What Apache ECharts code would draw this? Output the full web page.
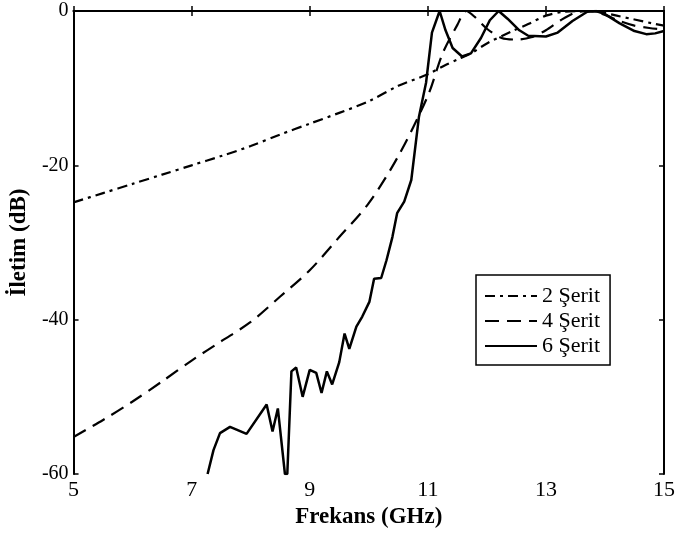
<!DOCTYPE html>
<html>
<head>
<meta charset="utf-8">
<script src="https://cdn.jsdelivr.net/npm/echarts@6/dist/echarts.min.js"></script>
<style>
  html, body { margin: 0; padding: 0; background: #fff; }
  #chart { width: 678px; height: 542px; }
</style>
</head>
<body>
<div id="chart"></div>
<script>
const seriesNames = ["2 Şerit", "4 Şerit", "6 Şerit"];
const xTicks = [5, 7, 9, 11, 13, 15];
const yTicks = [-60, -40, -20, 0];

// 2 serit (dash-dot)
const freq2 = [5, 5.5, 6, 6.5, 7, 7.5, 8, 8.5, 9, 9.5, 10, 10.5, 11, 11.3, 11.5, 11.75, 12, 12.4, 12.7, 13, 13.3, 13.6, 13.9, 14.2, 14.5, 14.8, 15];
const loss2 = [-24.8, -23.6, -22.4, -21.2, -20.0, -18.8, -17.5, -16.0, -14.6, -13.2, -11.7, -9.7, -8.2, -7.0, -6.3, -5.4, -4.2, -2.7, -1.7, -0.6, -0.1, 0, -0.1, -0.6, -1.1, -1.6, -1.9];

// 4 serit (dashed)
const freq4 = [5, 5.5, 6, 6.5, 7, 7.5, 8, 8.5, 9, 9.5, 10, 10.5, 11, 11.25, 11.5, 11.65, 11.8, 12, 12.25, 12.5, 12.75, 13, 13.25, 13.5, 13.75, 14, 14.25, 14.5, 14.75, 15];
const loss4 = [-55.2, -53.0, -50.6, -48.0, -45.3, -42.8, -40.3, -37.0, -33.6, -29.3, -24.9, -18.8, -11.0, -5.5, -1.8, 0, -0.8, -2.3, -3.5, -3.7, -3.4, -2.5, -1.2, -0.2, 0, -0.5, -1.3, -1.9, -2.2, -2.4];

// 6 serit (solid)
const freq6 = [7.27, 7.37, 7.48, 7.65, 7.93, 8.27, 8.37, 8.46, 8.58, 8.62, 8.69, 8.77, 8.88, 9.0, 9.11, 9.2, 9.29, 9.38, 9.5, 9.59, 9.67, 9.79, 9.89, 10.01, 10.09, 10.21, 10.3, 10.4, 10.48, 10.6, 10.72, 10.85, 10.97, 11.07, 11.2, 11.3, 11.42, 11.58, 11.73, 11.9, 12.05, 12.2, 12.35, 12.55, 12.7, 13.0, 13.2, 13.45, 13.7, 13.85, 14.0, 14.25, 14.5, 14.7, 14.85, 15];
const loss6 = [-60, -56.9, -54.7, -53.9, -54.8, -51.0, -54.5, -51.5, -60, -60, -46.7, -46.2, -50.0, -46.5, -46.9, -49.5, -46.7, -48.4, -45.5, -41.8, -43.8, -40.9, -39.6, -37.7, -34.7, -34.6, -32.3, -29.3, -26.2, -24.7, -21.9, -13.7, -9.3, -2.8, 0, -2.5, -4.8, -5.9, -5.5, -3.5, -1.2, 0, -1.0, -2.5, -3.2, -3.3, -2.8, -1.3, -0.1, 0, -0.4, -1.6, -2.6, -3.0, -2.9, -2.6];

const zip = (xs, ys) => xs.map((x, i) => [x, ys[i]]);

const FONT = "Liberation Serif";
const black = "#000";

const axisBase = {
  type: "value",
  axisLine: { show: true, lineStyle: { color: black, width: 2 } },
  axisTick: { show: true, inside: true, length: 5, lineStyle: { color: black, width: 1.5 } },
  splitLine: { show: false }
};

const option = {
  backgroundColor: "#fff",
  animation: false,
  grid: { left: 73, right: 12, top: 11, bottom: 68 },
  legend: {
    orient: "vertical",
    left: 476,
    top: 275,
    padding: [10, 10, 8, 8],
    itemGap: 3,
    itemWidth: 52,
    itemHeight: 14,
    backgroundColor: "#fff",
    borderColor: black,
    borderWidth: 1.5,
    itemStyle: { opacity: 0 },
    textStyle: { fontFamily: FONT, fontSize: 22, color: black },
    data: seriesNames
  },
  xAxis: [
    {
      ...axisBase,
      min: 5,
      max: 15,
      position: "bottom",
      name: "Frekans (GHz)",
      nameLocation: "middle",
      nameGap: 26,
      nameTextStyle: { fontFamily: FONT, fontSize: 23, fontWeight: "bold", color: black },
      axisTick: { ...axisBase.axisTick, customValues: xTicks },
      axisLabel: { customValues: xTicks, margin: 5, fontFamily: FONT, fontSize: 22, color: black }
    },
    {
      ...axisBase,
      min: 5,
      max: 15,
      position: "top",
      axisTick: { ...axisBase.axisTick, customValues: xTicks },
      axisLabel: { show: false }
    }
  ],
  yAxis: [
    {
      ...axisBase,
      min: -60,
      max: 0,
      interval: 20,
      position: "left",
      name: "İletim (dB)",
      nameLocation: "middle",
      nameGap: 41,
      nameTextStyle: { fontFamily: FONT, fontSize: 23, fontWeight: "bold", color: black },
      axisLabel: { margin: 5, fontFamily: FONT, fontSize: 20, color: black }
    },
    {
      ...axisBase,
      min: -60,
      max: 0,
      interval: 20,
      position: "right",
      axisLabel: { show: false }
    }
  ],
  series: [
    {
      name: seriesNames[0],
      type: "line",
      showSymbol: false,
      symbol: "none",
      smooth: 0.3,
      data: zip(freq2, loss2),
      lineStyle: { color: black, width: 2.2, type: [10, 5, 3, 5] },
      itemStyle: { color: black }
    },
    {
      name: seriesNames[1],
      type: "line",
      showSymbol: false,
      symbol: "none",
      smooth: 0.3,
      data: zip(freq4, loss4),
      lineStyle: { color: black, width: 2.2, type: [14, 8] },
      itemStyle: { color: black }
    },
    {
      name: seriesNames[2],
      type: "line",
      showSymbol: false,
      symbol: "none",
      data: zip(freq6, loss6),
      lineStyle: { color: black, width: 2.5 },
      itemStyle: { color: black }
    }
  ]
};

const myChart = echarts.init(document.getElementById("chart"), null, { renderer: "canvas" });
myChart.setOption(option);
</script>
</body>
</html>
